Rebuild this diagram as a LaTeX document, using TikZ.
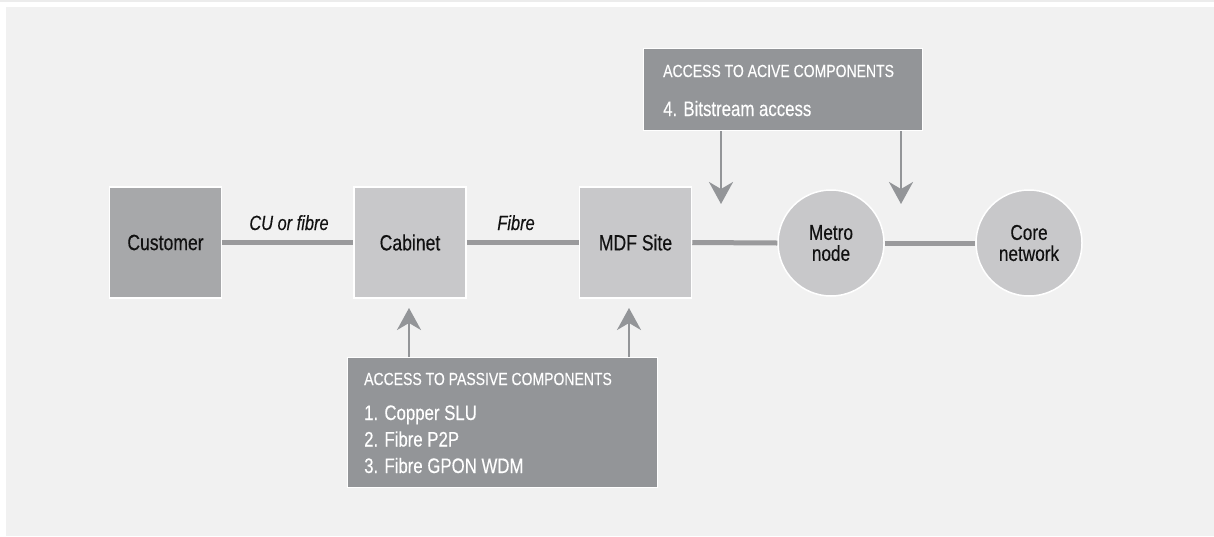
\documentclass[tikz,border=0pt]{standalone}
\usepackage{fontspec}
\setmainfont[FakeStretch=0.8, FakeBold=0.3]{Liberation Sans}
\usetikzlibrary{arrows.meta}
\definecolor{panel}{HTML}{F1F1F1}
\definecolor{stripe}{HTML}{ECECEC}
\definecolor{darkbox}{HTML}{A7A8AA}
\definecolor{lightbox}{HTML}{C8C8CA}
\definecolor{infobox}{HTML}{939598}
\definecolor{linkcol}{HTML}{9A9A9C}
\definecolor{txt}{HTML}{111111}
\tikzset{
  sq/.style={draw=white, line width=1.5pt, minimum width=112pt, minimum height=111pt,
    inner sep=0pt, text=txt, font=\fontsize{22}{26}\selectfont},
  rnd/.style={circle, draw=white, line width=1.5pt, fill=lightbox, minimum size=106pt,
    inner sep=0pt, text=txt, align=center, font=\fontsize{21.5}{21}\selectfont},
  info/.style={draw=white, line width=1.2pt, fill=infobox, inner sep=0pt},
  link/.style={draw=linkcol, line width=5pt},
  lab/.style={text=txt, font=\fontsize{20.5}{24}\selectfont\itshape, inner sep=0pt, anchor=base},
  itxt/.style={text=white, inner sep=0pt, anchor=base west},
  ttl/.style={itxt, font=\fontsize{17.5}{20}\selectfont},
  itm/.style={itxt, font=\fontsize{21}{24}\selectfont},
  arr/.style={draw=infobox, line width=2.5pt, -{Stealth[length=22pt, width=24pt, inset=7pt]}},
}
\begin{document}
\begin{tikzpicture}[x=1pt, y=-1pt]
\useasboundingbox (0,0) rectangle (1214,536);
\fill[white] (0,0) rectangle (1214,536);
\fill[stripe] (0,0) rectangle (1214,1.5);
\fill[panel] (6,7) rectangle (1214,536);

% main chain
\node[sq, fill=darkbox] (cust) at (165.5,242.5) {Customer};
\node[sq, fill=lightbox] (cab) at (410,242.5) {Cabinet};
\node[sq, fill=lightbox] (mdf) at (635.5,242.5) {MDF Site};
\node[rnd] (metro) at (831,243) {Metro\\node};
\node[rnd] (core) at (1029,243) {Core\\network};

\draw[link] (cust.east) -- (cab.west);
\draw[link] (cab.east) -- (mdf.west);
\draw[link] (mdf.east) -- (metro.west);
\draw[link] (metro.east) -- (core.west);

\node[lab] (lcu) at (289,230) {CU or fibre};
\node[lab] (lfi) at (516,230) {Fibre};

% passive components box
\node[info, minimum width=310pt, minimum height=130pt, anchor=north west] (passive) at (347,357) {};
\node[ttl] (ptitle) at (364,385) {ACCESS TO PASSIVE COMPONENTS};
\node[itm] (p1) at (364,420) {1. Copper SLU};
\node[itm] (p2) at (364,446.5) {2. Fibre P2P};
\node[itm] (p3) at (364,473) {3. Fibre GPON WDM};

\coordinate (ta) at (409,308);
\coordinate (tb) at (629,308);
\draw[arr] (passive.north -| ta) -- (ta);
\draw[arr] (passive.north -| tb) -- (tb);

% active components box
\node[info, minimum width=279pt, minimum height=82pt, anchor=north west] (active) at (643,48) {};
\node[ttl] (atitle) at (663,77) {ACCESS TO ACIVE COMPONENTS};
\node[itm] (a1) at (663,116) {4. Bitstream access};

\coordinate (tc) at (721,204);
\coordinate (td) at (901,204);
\draw[arr] (active.south -| tc) -- (tc);
\draw[arr] (active.south -| td) -- (td);
\end{tikzpicture}
\end{document}
